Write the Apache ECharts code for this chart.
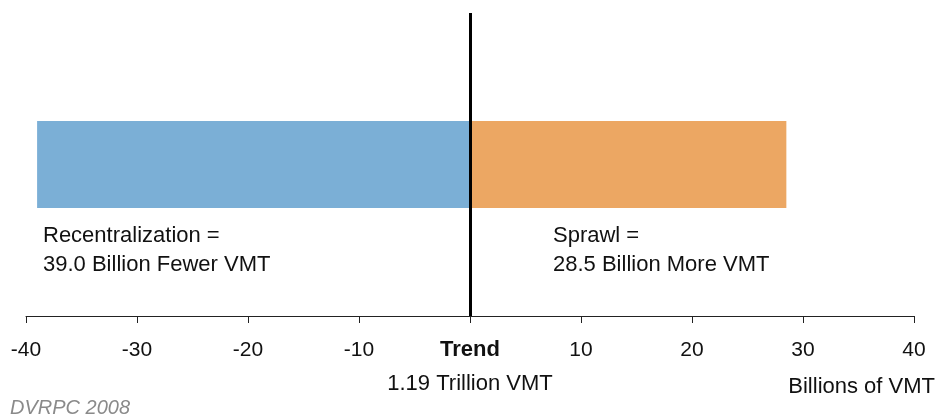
<!DOCTYPE html>
<html><head><meta charset="utf-8">
<script src="https://cdn.jsdelivr.net/npm/echarts@6/dist/echarts.min.js"></script>
<style>html,body{margin:0;padding:0;background:#fff}#c{width:938px;height:416px}</style>
</head><body><div id="c"></div>
<script>
const categories = ['Scenario'];
const recentralization = [-39.0];
const sprawl = [28.5];
const trendValue = [0];
const xTicks = [-40, -30, -20, -10, 0, 10, 20, 30, 40];
const leftNote = ['Recentralization =', '39.0 Billion Fewer VMT'];
const rightNote = ['Sprawl =', '28.5 Billion More VMT'];
const trendLabel = ['Trend', '1.19 Trillion VMT'];
const unitLabel = 'Billions of VMT';
const sourceLabel = 'DVRPC 2008';

const FONT = 'Liberation Sans, Arial, sans-serif';
const chart = echarts.init(document.getElementById('c'), null, {renderer: 'canvas'});
chart.setOption({
  animation: false,
  textStyle: {fontFamily: FONT},
  grid: {left: 26, right: 24, top: 13, bottom: 100, containLabel: false},
  xAxis: {
    type: 'value', min: xTicks[0], max: xTicks[xTicks.length - 1], interval: 10,
    splitLine: {show: false},
    axisLine: {show: true, lineStyle: {color: '#222', width: 1}},
    axisTick: {show: true, length: 7, lineStyle: {color: '#222'}},
    axisLabel: {
      margin: 17, color: '#111', fontSize: 21, fontFamily: FONT,
      formatter: v => v === 0 ? '{b|' + trendLabel[0] + '}\n{n|' + trendLabel[1] + '}' : '{t|' + v + '}',
      rich: {
        t: {fontSize: 21, lineHeight: 34, color: '#111', fontFamily: FONT},
        b: {fontSize: 22, lineHeight: 34, fontWeight: 'bold', color: '#111', fontFamily: FONT},
        n: {fontSize: 22, lineHeight: 34, color: '#111', fontFamily: FONT}
      }
    }
  },
  yAxis: {type: 'category', data: categories, show: false},
  series: [
    {type: 'bar', data: recentralization, stack: 's', barWidth: 87, itemStyle: {color: '#7bafd6'},
     markLine: {symbol: 'none', silent: true, label: {show: false},
       lineStyle: {color: '#000', width: 3, type: 'solid'},
       data: [{xAxis: trendValue[0]}]}},
    {type: 'bar', data: sprawl, stack: 's2', barWidth: 87, barGap: '-100%', itemStyle: {color: '#eca763'}}
  ],
  graphic: [
    {type: 'text', left: 43, top: 221, style: {text: leftNote.join('\n'), font: '22px ' + FONT, lineHeight: 29, fill: '#111'}},
    {type: 'text', left: 553, top: 221, style: {text: rightNote.join('\n'), font: '22px ' + FONT, lineHeight: 29, fill: '#111'}},
    {type: 'text', right: 3, top: 376, style: {text: unitLabel, font: '22px ' + FONT, fill: '#111'}},
    {type: 'text', left: 10, top: 398, style: {text: sourceLabel, font: 'italic 20px ' + FONT, fill: '#8a8a8a'}}
  ]
});
</script></body></html>
